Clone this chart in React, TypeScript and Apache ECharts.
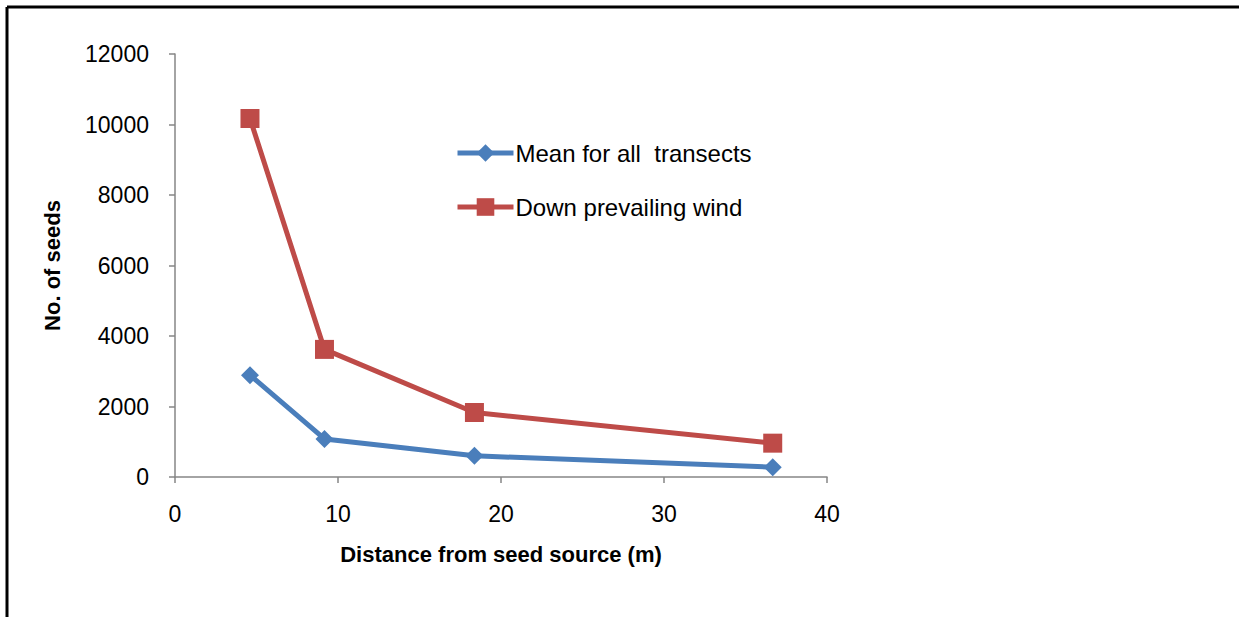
import React, { useEffect, useRef } from "react";
import * as echarts from "echarts";

const distances = [4.6, 9.17, 18.37, 36.67];
const meanAll = [2890, 1080, 600, 280];
const downWind = [10170, 3620, 1830, 960];
const seriesNames = ["Mean for all  transects", "Down prevailing wind"];
const xTitle = "Distance from seed source (m)";
const yTitle = "No. of seeds";

const FONT = "Liberation Sans";

export default function App() {
  const ref = useRef<HTMLDivElement>(null);
  useEffect(() => {
    if (!ref.current) return;
    const chart = echarts.init(ref.current, undefined, { renderer: "svg" });
    const axisColor = "#868686";
    chart.setOption({
      animation: false,
      backgroundColor: "#ffffff",
      textStyle: { fontFamily: FONT },
      graphic: [
        { type: "line", shape: { x1: 7, y1: 7, x2: 1239, y2: 7 }, style: { stroke: "#000", lineWidth: 3 } },
        { type: "line", shape: { x1: 7, y1: 7, x2: 7, y2: 617 }, style: { stroke: "#000", lineWidth: 3 } },
      ],
      grid: { left: 175, right: 412, top: 54, bottom: 140, containLabel: false },
      legend: {
        orient: "vertical",
        left: 450,
        top: 136,
        itemWidth: 56,
        itemHeight: 22,
        itemGap: 30,
        lineStyle: { width: 5 },
        textStyle: { fontFamily: FONT, fontSize: 24, color: "#000", padding: [0, 0, 0, -3] },
        data: seriesNames,
      },
      xAxis: {
        type: "value",
        min: 0,
        max: 40,
        interval: 10,
        name: xTitle,
        nameLocation: "middle",
        nameGap: 66,
        nameTextStyle: { fontFamily: FONT, fontSize: 22, fontWeight: "bold", color: "#000" },
        axisLine: { show: true, lineStyle: { color: axisColor, width: 1.5 } },
        axisTick: { show: true, length: 6, lineStyle: { color: axisColor, width: 1.5 } },
        axisLabel: { fontFamily: FONT, fontSize: 23, color: "#000", margin: 25 },
        splitLine: { show: false },
      },
      yAxis: {
        type: "value",
        min: 0,
        max: 12000,
        interval: 2000,
        name: yTitle,
        nameLocation: "middle",
        nameRotate: 90,
        nameGap: 112,
        nameTextStyle: { fontFamily: FONT, fontSize: 22, fontWeight: "bold", color: "#000" },
        axisLine: { show: true, lineStyle: { color: axisColor, width: 1.5 } },
        axisTick: { show: true, length: 6, lineStyle: { color: axisColor, width: 1.5 } },
        axisLabel: {
          fontFamily: FONT,
          fontSize: 23,
          color: "#000",
          margin: 26,
          formatter: (v: number) => String(v),
        },
        splitLine: { show: false },
      },
      series: [
        {
          name: seriesNames[0],
          type: "line",
          data: distances.map((d, i) => [d, meanAll[i]]),
          symbol: "diamond",
          symbolSize: 18,
          lineStyle: { color: "#4A7EBB", width: 5 },
          itemStyle: { color: "#4A7EBB" },
        },
        {
          name: seriesNames[1],
          type: "line",
          data: distances.map((d, i) => [d, downWind[i]]),
          symbol: "rect",
          symbolSize: 19,
          lineStyle: { color: "#BE4B48", width: 5 },
          itemStyle: { color: "#BE4B48" },
        },
      ],
    });
    return () => chart.dispose();
  }, []);
  return (
    <div
      ref={ref}
      style={{ position: "absolute", left: 0, top: 0, width: 1239, height: 617 }}
    />
  );
}
